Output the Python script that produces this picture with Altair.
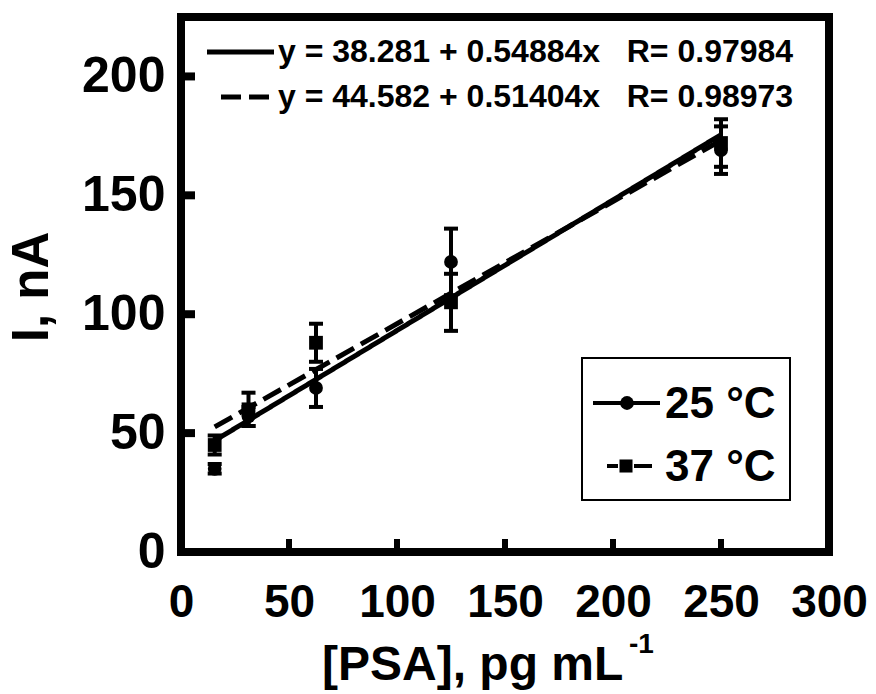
import altair as alt
import pandas as pd

# ---- data ----
conc = [15.6, 31.25, 62.5, 125, 250]          # [PSA], pg/mL
i25 = [35, 57, 69, 122, 169]                   # current at 25 °C, nA
e25 = [2, 4, 8, 14, 10]                        # error bars 25 °C
i37 = [45, 60, 88, 105, 172]                   # current at 37 °C, nA
e37 = [4, 7, 8, 12, 10]                        # error bars 37 °C
series = ["25 °C", "37 °C"]
intercepts = [38.281, 44.582]
slopes = [0.54884, 0.51404]
r_values = [0.97984, 0.98973]
x_ticks = [0, 50, 100, 150, 200, 250, 300]
y_ticks = [0, 50, 100, 150, 200]
x_inner_ticks = [50, 100, 150, 200, 250]
y_inner_ticks = [50, 100, 150, 200]

FONT = "Liberation Sans"
W, H = 648, 535

rows = []
for s, vals, errs in ((series[0], i25, e25), (series[1], i37, e37)):
    for c, v, e in zip(conc, vals, errs):
        rows.append({"series": s, "conc": c, "current": v, "lo": v - e, "hi": v + e})
pts = pd.DataFrame(rows)
caps = pd.concat([pts.assign(cap=pts["lo"]), pts.assign(cap=pts["hi"])], ignore_index=True)

fit_rows = []
for s, a, b in zip(series, intercepts, slopes):
    for xv in (min(conc), max(conc)):
        fit_rows.append({"series": s, "conc": xv, "current": a + b * xv})
fits = pd.DataFrame(fit_rows)

xs = alt.Scale(domain=[0, 300], nice=False, zero=False)
ys = alt.Scale(domain=[0, 225], nice=False, zero=False)
x_axis = alt.Axis(values=x_ticks, title=None, grid=False, domain=False, ticks=False,
                  labelFont=FONT, labelFontSize=46, labelFontWeight="bold", labelColor="black",
                  labelPadding=50, labelBaseline="middle", labelFlush=False, labelOverlap=False,
                  labelBound=False)
y_axis = alt.Axis(values=y_ticks, title=None, grid=False, domain=False, ticks=False,
                  labelFont=FONT, labelFontSize=50, labelFontWeight="bold", labelColor="black",
                  labelPadding=16, labelFlush=False, labelOverlap=False, labelBound=False)

def X(field):
    return alt.X(f"{field}:Q", scale=xs, axis=x_axis)

def Y(field):
    return alt.Y(f"{field}:Q", scale=ys, axis=y_axis)

dash = alt.StrokeDash("series:N", scale=alt.Scale(domain=series, range=[[1, 0], [20, 8]]), legend=None)
shape = alt.Shape("series:N", scale=alt.Scale(domain=series, range=["circle", "square"]), legend=None)

fit_lines = alt.Chart(fits).mark_line(color="black", strokeWidth=5).encode(
    x=X("conc"), y=Y("current"), strokeDash=dash, detail="series:N")

bars = alt.Chart(pts).mark_rule(color="black", strokeWidth=4, opacity=1).encode(
    x=X("conc"), y=Y("lo"), y2="hi:Q")

cap_marks = alt.Chart(caps).mark_tick(color="black", orient="horizontal", size=14, thickness=4,
                                      opacity=1).encode(x=X("conc"), y=Y("cap"))

points = alt.Chart(pts).mark_point(filled=True, color="black", opacity=1, size=190).encode(
    x=X("conc"), y=Y("current"), shape=shape)

xt = alt.Chart(pd.DataFrame({"t": x_inner_ticks})).mark_rule(color="black", strokeWidth=6).encode(
    x=X("t"), y=alt.value(H), y2=alt.value(H - 13))
yt = alt.Chart(pd.DataFrame({"t": y_inner_ticks})).mark_rule(color="black", strokeWidth=8).encode(
    y=Y("t"), x=alt.value(0), x2=alt.value(14))

# equation legend (top-left)
eq_text = [f"y = {a:.3f} + {b:.5f}x\u00a0\u00a0\u00a0R= {r:.5f}" for a, b, r in zip(intercepts, slopes, r_values)]
eq_df = pd.DataFrame({"series": series, "label": eq_text})
eq_line1 = alt.Chart(eq_df.iloc[[0]]).mark_rule(color="black", strokeWidth=5).encode(
    x=alt.value(26), x2=alt.value(93), y=alt.value(35))
eq_line2 = alt.Chart(eq_df.iloc[[1]]).mark_rule(color="black", strokeWidth=5, strokeDash=[20, 8]).encode(
    x=alt.value(40), x2=alt.value(93), y=alt.value(80))
eq_t1 = alt.Chart(eq_df.iloc[[0]]).mark_text(font=FONT, fontSize=32, fontWeight="bold", align="left",
                                              baseline="middle", color="black").encode(
    x=alt.value(97), y=alt.value(35), text="label:N")
eq_t2 = alt.Chart(eq_df.iloc[[1]]).mark_text(font=FONT, fontSize=32, fontWeight="bold", align="left",
                                              baseline="middle", color="black").encode(
    x=alt.value(97), y=alt.value(80), text="label:N")

# series legend box (lower-right)
lg = pd.DataFrame({"series": series})
box = alt.Chart(lg.iloc[[0]]).mark_rect(fill="white", stroke="black", strokeWidth=2).encode(
    x=alt.value(401), x2=alt.value(609), y=alt.value(341), y2=alt.value(483))
lg_l1 = alt.Chart(lg.iloc[[0]]).mark_rule(color="black", strokeWidth=4).encode(
    x=alt.value(412), x2=alt.value(479), y=alt.value(386))
lg_p1 = alt.Chart(lg.iloc[[0]]).mark_point(filled=True, color="black", opacity=1, size=190, shape="circle").encode(
    x=alt.value(446), y=alt.value(386))
lg_l2 = alt.Chart(lg.iloc[[1]]).mark_rule(color="black", strokeWidth=4, strokeDash=[11, 16, 18, 50]).encode(
    x=alt.value(426), x2=alt.value(471), y=alt.value(449))
lg_p2 = alt.Chart(lg.iloc[[1]]).mark_point(filled=True, color="black", opacity=1, size=170, shape="square").encode(
    x=alt.value(445), y=alt.value(449))
lg_t1 = alt.Chart(lg.iloc[[0]]).mark_text(
    font=FONT, fontSize=44, fontWeight="bold", align="left", baseline="middle", color="black").encode(
    x=alt.value(484), y=alt.value(388), text="series:N")
lg_t2 = alt.Chart(lg.iloc[[1]]).mark_text(
    font=FONT, fontSize=44, fontWeight="bold", align="left", baseline="middle", color="black").encode(
    x=alt.value(484), y=alt.value(451), text="series:N")

# axis titles
ytitle = alt.Chart(pd.DataFrame({"t": ["I, nA"]})).mark_text(
    font=FONT, fontSize=51, fontWeight="bold", angle=270, align="center", baseline="middle",
    color="black").encode(x=alt.value(-148), y=alt.value(270), text="t:N")
xtitle = alt.Chart(pd.DataFrame({"t": ["[PSA], pg mL"]})).mark_text(
    font=FONT, fontSize=48, fontWeight="bold", align="left", baseline="middle", color="black").encode(
    x=alt.value(141), y=alt.value(H + 114), text="t:N")
xsup = alt.Chart(pd.DataFrame({"t": ["-1"]})).mark_text(
    font=FONT, fontSize=28, fontWeight="bold", align="left", baseline="middle", color="black").encode(
    x=alt.value(448), y=alt.value(H + 93), text="t:N")

chart = alt.layer(
    fit_lines, bars, cap_marks, points, xt, yt,
    eq_line1, eq_line2, eq_t1, eq_t2,
    box, lg_l1, lg_p1, lg_l2, lg_p2, lg_t1, lg_t2,
    ytitle, xtitle, xsup,
).properties(
    width=W, height=H,
    autosize=alt.AutoSizeParams(type="none"),
    padding={"left": 181, "top": 17, "right": 47, "bottom": 694 - 17 - H},
    background="white",
).configure_view(stroke="black", strokeWidth=8)

chart.save("out.html", embed_options={"renderer": "svg", "actions": False})
